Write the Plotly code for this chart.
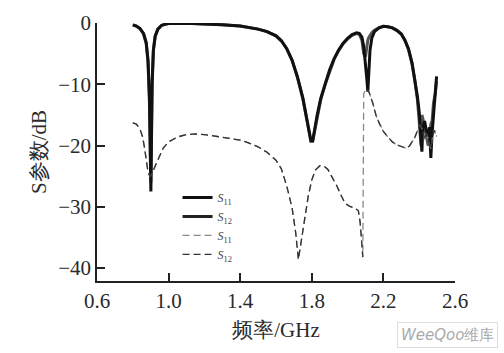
import plotly.graph_objects as go

# ---- data ----
f_top = [0.80, 0.82, 0.84, 0.86, 0.875, 0.885, 0.893, 0.898, 0.901, 0.904, 0.908, 0.915, 0.925, 0.94, 0.96, 0.98,
         1.0, 1.1, 1.2, 1.3, 1.4, 1.45, 1.5, 1.55, 1.6, 1.63, 1.66, 1.69, 1.72, 1.75, 1.77, 1.785, 1.795, 1.805,
         1.815, 1.83, 1.85, 1.875, 1.9, 1.925, 1.95, 1.975, 2.0, 2.025, 2.05, 2.065, 2.08, 2.09, 2.1, 2.107, 2.113,
         2.118, 2.125, 2.135, 2.15, 2.175, 2.2, 2.225, 2.25, 2.275, 2.3, 2.32, 2.34, 2.36, 2.375, 2.39, 2.40, 2.41,
         2.415, 2.42, 2.43, 2.44, 2.45, 2.458, 2.465, 2.472, 2.48, 2.49, 2.497]
s11_sim = [-0.3, -0.5, -0.9, -1.7, -3.2, -6.0, -12.0, -22.0, -27.5, -20.0, -10.0, -4.5, -2.2, -1.0, -0.4, -0.2,
           -0.1, -0.05, -0.15, -0.3, -0.5, -0.7, -1.0, -1.4, -2.1, -2.9, -4.2, -6.1, -8.8, -12.2, -15.2, -17.6, -19.2, -19.2,
           -17.5, -15.0, -12.3, -9.8, -7.6, -5.8, -4.4, -3.3, -2.5, -1.9, -1.6, -1.7, -2.3, -3.8, -6.5, -9.0, -11.2,
           -8.0, -4.5, -2.5, -1.4, -0.8, -0.55, -0.6, -0.8, -1.2, -1.8, -2.8, -4.2, -6.5, -9.0, -12.0, -14.5, -18.0,
           -21.0, -17.0, -16.0, -17.5, -18.5, -17.0, -22.0, -18.0, -15.0, -11.0, -8.7]
s12_sim = [-0.3, -0.5, -0.9, -1.8, -3.4, -6.5, -13.0, -23.0, -26.0, -19.0, -9.5, -4.3, -2.1, -1.0, -0.4, -0.2,
           -0.1, -0.05, -0.15, -0.3, -0.5, -0.7, -1.0, -1.4, -2.1, -2.9, -4.2, -6.1, -8.9, -12.4, -15.4, -17.8, -19.3, -19.3,
           -17.7, -15.2, -12.5, -10.0, -7.8, -5.9, -4.5, -3.4, -2.6, -2.0, -1.7, -1.8, -2.8, -5.0, -5.5, -3.5, -2.8,
           -2.4, -2.0, -1.6, -1.2, -0.8, -0.55, -0.6, -0.8, -1.2, -1.8, -2.8, -4.3, -6.7, -9.3, -12.5, -16.0, -20.0,
           -15.0, -15.5, -17.0, -18.5, -20.0, -19.0, -16.5, -16.0, -13.0, -11.5, -9.5]

f_low = [0.80, 0.82, 0.84, 0.855, 0.865, 0.875, 0.885, 0.895, 0.905, 0.915, 0.925, 0.935, 0.95, 0.97, 1.0, 1.05,
         1.1, 1.15, 1.2, 1.25, 1.3, 1.35, 1.4, 1.45, 1.5, 1.55, 1.6, 1.63, 1.66, 1.69, 1.71, 1.725, 1.74, 1.76, 1.78,
         1.8, 1.82, 1.845, 1.87, 1.89, 1.91, 1.94, 1.965, 1.985, 2.01, 2.04, 2.06, 2.07, 2.078, 2.085, 2.09, 2.105,
         2.12, 2.14, 2.16, 2.18, 2.2, 2.225, 2.25, 2.275, 2.3, 2.325, 2.345, 2.36, 2.375, 2.39, 2.405, 2.42, 2.43,
         2.44, 2.455, 2.465, 2.475, 2.485, 2.497]
s11_meas = [-16.3, -16.5, -17.3, -18.6, -20.3, -22.5, -24.3, -25.0, -24.8, -24.0, -23.3, -22.6, -21.5, -20.4, -19.4, -18.6,
            -18.2, -18.1, -18.2, -18.4, -18.6, -18.8, -19.1, -19.6, -20.2, -21.1, -22.4, -23.8, -26.6, -30.2, -34.2, -38.6,
            -35.8, -31.5, -28.3, -25.6, -24.0, -23.3, -23.4, -23.9, -24.9, -26.6, -28.2, -29.4, -29.9, -30.2, -30.6, -32.5,
            -35.5, -38.2, -11.5, -10.8, -11.3, -13.0, -15.2, -16.6, -17.7, -18.6, -19.4, -19.9, -20.2, -20.4, -20.1, -19.5,
            -18.7, -17.6, -16.6, -17.5, -19.0, -18.0, -19.5, -20.5, -18.5, -17.5, -18.5]
s12_meas = s11_meas[:50] + [None] + s11_meas[51:]

x_ticks = [0.6, 1.0, 1.4, 1.8, 2.2, 2.6]
x_labels = ["0.6", "1.0", "1.4", "1.8", "2.2", "2.6"]
y_ticks = [0, -10, -20, -30, -40]

serif = "Liberation Serif"
leg_name = lambda s: "<i>S</i><sub>" + s + "</sub>"

fig = go.Figure()
fig.add_trace(go.Scatter(x=f_top, y=s12_sim, mode="lines", name=leg_name("12"),
                         line=dict(color="#555555", width=3), cliponaxis=False, showlegend=False))
fig.add_trace(go.Scatter(x=f_top, y=s11_sim, mode="lines", name=leg_name("11"),
                         line=dict(color="#111111", width=3), cliponaxis=False))
fig.add_trace(go.Scatter(x=[None], y=[None], mode="lines", name=leg_name("12"),
                         line=dict(color="#222222", width=3)))
fig.add_trace(go.Scatter(x=f_low, y=s11_meas, mode="lines", name=leg_name("11"),
                         line=dict(color="#888888", width=1.3, dash="7px,4px"), cliponaxis=False))
fig.add_trace(go.Scatter(x=f_low, y=s12_meas, mode="lines", name=leg_name("12"),
                         line=dict(color="#333333", width=1.3, dash="7px,4px"), cliponaxis=False,
                         connectgaps=False))

fig.update_layout(
    width=504, height=353,
    margin=dict(l=97, r=49, t=23, b=72),
    paper_bgcolor="white", plot_bgcolor="white",
    font=dict(family=serif, color="#2a2a2a", size=20),
    showlegend=True,
    legend=dict(x=0.225, y=0.38, xanchor="left", yanchor="top",
                bgcolor="rgba(0,0,0,0)", font=dict(size=12, family=serif, color="#444444"),
                itemwidth=30, tracegroupgap=0),
    xaxis=dict(range=[0.6, 2.6], tickvals=x_ticks, ticktext=x_labels,
               showline=True, linecolor="#222222", linewidth=1.5, ticks="inside", ticklen=8,
               tickwidth=1.5, tickcolor="#222222", showgrid=False, zeroline=False,
               tickfont=dict(size=21, family=serif, color="#2a2a2a"),
               title=dict(text="频率/GHz", font=dict(size=21, family=serif, color="#2a2a2a"), standoff=10)),
    yaxis=dict(range=[-42.1, 0], tickvals=y_ticks, showline=True, linecolor="#222222", linewidth=1.5,
               ticks="inside", ticklen=8, tickwidth=1.5, tickcolor="#222222", showgrid=False, zeroline=False,
               tickfont=dict(size=21, family=serif, color="#2a2a2a"),
               title=dict(text="S参数/dB", font=dict(size=21, family=serif, color="#2a2a2a"), standoff=6)),
    annotations=[dict(text="<i>WeeQoo</i>维库", xref="paper", yref="paper", x=1.12, y=-0.16,
                      xanchor="right", yanchor="top", showarrow=False,
                      font=dict(size=15, family="DejaVu Sans", color="#aaaaaa"),
                      bordercolor="#dddddd", borderwidth=1, borderpad=3)],
)
fig.write_html("out.html")
